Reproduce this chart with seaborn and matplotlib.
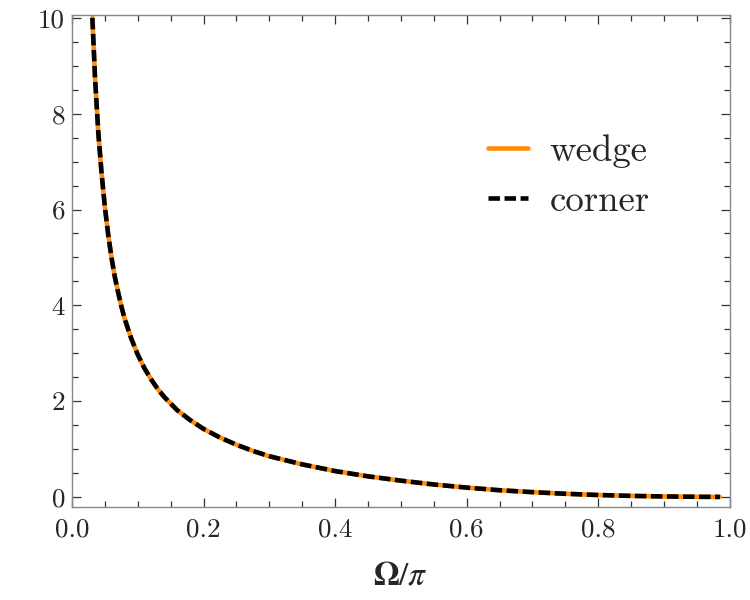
import matplotlib
matplotlib.use("Agg")
import matplotlib.pyplot as plt
import seaborn as sns
import pandas as pd
from matplotlib.ticker import MultipleLocator, FormatStrFormatter

# Data (x = Omega/pi)
omega_over_pi = [0.031, 0.035, 0.04, 0.045, 0.05, 0.055, 0.06, 0.065, 0.07, 0.075,
                 0.08, 0.09, 0.10, 0.11, 0.12, 0.13, 0.14, 0.16, 0.18, 0.20,
                 0.225, 0.25, 0.275, 0.30, 0.35, 0.40, 0.45, 0.50, 0.55, 0.60,
                 0.65, 0.70, 0.75, 0.80, 0.85, 0.90, 0.95, 0.985]
wedge = [10.0, 8.75, 7.6, 6.75, 6.05, 5.48, 5.0, 4.6, 4.28, 3.98,
         3.72, 3.31, 2.97, 2.69, 2.46, 2.26, 2.09, 1.81, 1.60, 1.42,
         1.24, 1.09, 0.96, 0.85, 0.68, 0.54, 0.43, 0.34, 0.26, 0.195,
         0.14, 0.10, 0.066, 0.040, 0.022, 0.010, 0.003, 0.0005]
corner = list(wedge)

labels = ["wedge", "corner"]

sns.set_theme(style="ticks")
plt.rcParams["font.family"] = ["cmr10", "DejaVu Serif"]
plt.rcParams["mathtext.fontset"] = "cm"
plt.rcParams["axes.formatter.use_mathtext"] = True
plt.rcParams["axes.unicode_minus"] = False

df = pd.DataFrame({"x": omega_over_pi, "wedge": wedge, "corner": corner})

fig = plt.figure(figsize=(7.5, 6), dpi=100)
ax = fig.add_axes([0.096, 0.155, 0.877, 0.82])

sns.lineplot(data=df, x="x", y="wedge", ax=ax, color="#FF8C0A", linewidth=3.3,
             label=labels[0], sort=False)
sns.lineplot(data=df, x="x", y="corner", ax=ax, color="black", linewidth=3.3,
             label=labels[1], sort=False, dashes=False)
ax.lines[1].set_dashes([2.5, 1.0])

ax.set_xlim(0, 1.0)
ax.set_ylim(-0.21, 10.06)
ax.xaxis.set_major_locator(MultipleLocator(0.2))
ax.xaxis.set_minor_locator(MultipleLocator(0.05))
ax.yaxis.set_major_locator(MultipleLocator(2))
ax.yaxis.set_minor_locator(MultipleLocator(0.5))
ax.xaxis.set_major_formatter(FormatStrFormatter("%.1f"))
ax.yaxis.set_major_formatter(FormatStrFormatter("%d"))

ax.tick_params(which="both", direction="in", top=True, right=True,
               labelsize=19.5, color="#333333", width=0.9)
ax.tick_params(axis="x", pad=8)
ax.tick_params(axis="y", pad=5)
ax.tick_params(which="major", length=6.5)
ax.tick_params(which="minor", length=4)
for sp in ax.spines.values():
    sp.set_color("#888888")
    sp.set_linewidth(1.0)

ax.set_xlabel(r"$\mathbf{\Omega}/\pi$", fontsize=24, labelpad=14,
              math_fontfamily="stix")
ax.set_ylabel("")

ax.legend(loc="center left", bbox_to_anchor=(0.651, 0.706),
          bbox_transform=fig.transFigure, frameon=False, fontsize=26.5,
          handlelength=1.07, handletextpad=0.6, labelspacing=0.45,
          borderpad=0, borderaxespad=0)

fig.savefig("out.png", dpi=100)
